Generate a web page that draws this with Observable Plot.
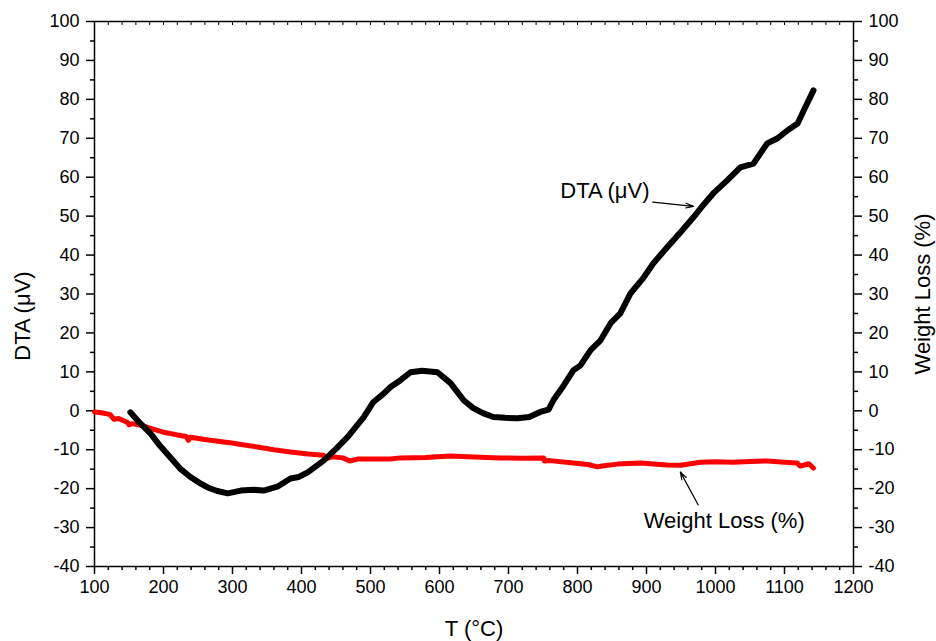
<!DOCTYPE html>
<html>
<head>
<meta charset="utf-8">
<script src="https://cdn.jsdelivr.net/npm/d3@7"></script>
<script src="https://cdn.jsdelivr.net/npm/@observablehq/plot@0.6"></script>
<style>
  html, body { margin: 0; padding: 0; background: #fff; }
  #chart svg { display: block; }
</style>
</head>
<body>
<div id="chart"></div>
<script>
// DTA curve (T in °C, DTA in µV)
const dtaT = [152,165,181,195,210,225,239,252,264,278,293,312,330,345,365,384,396,409,432,450,467,490,504,519,529,543,558,575,597,616,635,649,663,678,695,713,730,746,758,765,780,794,804,819,833,848,862,877,895,910,930,950,968,983,997,1017,1036,1055,1075,1090,1104,1119,1128,1142];
const dtaV = [-0.4,-3,-5.8,-9,-12,-15,-17,-18.5,-19.7,-20.6,-21.2,-20.5,-20.3,-20.5,-19.5,-17.4,-17,-15.8,-12.8,-9.8,-6.7,-1.7,2.2,4.4,6.1,7.8,9.9,10.3,9.9,7.1,2.7,0.7,-0.6,-1.6,-1.8,-1.9,-1.6,-0.3,0.3,2.7,6.5,10.4,11.6,15.6,18,22.5,25,30.2,34,37.9,42,46,49.7,53,55.9,59.2,62.5,63.5,68.7,70,72,73.8,77.2,82.3];

// Weight loss curve (T in °C, %)
const wlT = [100,110,123,128,135,148,150,155,167,185,200,220,233,236,239,260,287,300,310,336,360,384,410,432,434,445,460,470,481,500,529,543,580,616,650,688,720,751,752,760,794,815,829,835,858,891,930,950,978,1000,1026,1050,1075,1100,1118,1123,1135,1142];
const wlV = [-0.3,-0.5,-1,-2.2,-2,-3,-3.6,-3.3,-3.7,-4.7,-5.5,-6.2,-6.6,-7.6,-6.8,-7.4,-8,-8.3,-8.6,-9.3,-10,-10.6,-11.1,-11.4,-12.4,-11.8,-12.1,-12.9,-12.4,-12.4,-12.4,-12.1,-12,-11.6,-11.9,-12.1,-12.2,-12.1,-12.9,-12.8,-13.4,-13.8,-14.4,-14.2,-13.7,-13.4,-13.9,-14,-13.2,-13.1,-13.2,-13,-12.9,-13.2,-13.4,-14.2,-13.6,-14.7];

// Axis ticks
const xMajor = [100,200,300,400,500,600,700,800,900,1000,1100,1200];
const xMinor = d3.range(100, 1201, 20).filter(v => v % 100 !== 0);
const xTop = d3.range(100, 1201, 20);
const yMajor = [-40,-30,-20,-10,0,10,20,30,40,50,60,70,80,90,100];
const yMinor = [-35,-25,-15,-5,5,15,25,35,45,55,65,75,85,95];

// Annotations
const noteText = ["DTA (\u03bcV)", "Weight Loss (%)"];
const noteT = [775, 896];
const noteV = [56.4, -28.3];
const arrowT1 = [909, 975];
const arrowV1 = [53.6, -24.2];
const arrowT2 = [968, 949];
const arrowV2 = [52.5, -15.7];

const dta = dtaT.map((t, i) => ({T: t, v: dtaV[i]}));
const wl = wlT.map((t, i) => ({T: t, v: wlV[i]}));
const notes = noteText.map((s, i) => ({s, T: noteT[i], v: noteV[i]}));
const arrows = arrowT1.map((t, i) => ({x1: t, y1: arrowV1[i], x2: arrowT2[i], y2: arrowV2[i]}));

const font = "'Liberation Sans', Arial, sans-serif";
const fmt = d => String(d);

const chart = Plot.plot({
  width: 936,
  height: 641,
  marginLeft: 94,
  marginRight: 83,
  marginTop: 21,
  marginBottom: 75,
  style: {fontFamily: font, color: "black", background: "white"},
  x: {domain: [100, 1200]},
  y: {domain: [-40, 100]},
  marks: [
    Plot.axisY({anchor: "left", ticks: yMajor, tickFormat: fmt, tickSize: 8, tickPadding: 7, fontSize: 18, strokeWidth: 1.5, label: null}),
    Plot.axisY({anchor: "left", ticks: yMinor, tickSize: 4, text: null, strokeWidth: 1.5, label: null}),
    Plot.axisY({anchor: "right", ticks: yMajor, tickFormat: fmt, tickSize: 8, tickPadding: 7, fontSize: 18, strokeWidth: 1.5, label: null}),
    Plot.axisY({anchor: "right", ticks: yMinor, tickSize: 4, text: null, strokeWidth: 1.5, label: null}),
    Plot.axisX({anchor: "bottom", ticks: xMajor, tickFormat: fmt, tickSize: 8, tickPadding: 6, fontSize: 18, strokeWidth: 1.5, label: null}),
    Plot.axisX({anchor: "bottom", ticks: xMinor, tickSize: 4, text: null, strokeWidth: 1.5, label: null}),
    Plot.axisX({anchor: "top", ticks: xTop, tickSize: -3, text: null, strokeWidth: 1, label: null}),
    Plot.frame({stroke: "black", strokeWidth: 1.5}),
    Plot.line(wl, {x: "T", y: "v", stroke: "#ff0000", strokeWidth: 5, strokeLinejoin: "round", strokeLinecap: "round"}),
    Plot.line(dta, {x: "T", y: "v", stroke: "black", strokeWidth: 6, strokeLinejoin: "round", strokeLinecap: "round"}),
    Plot.arrow(arrows, {x1: "x1", y1: "y1", x2: "x2", y2: "y2", stroke: "black", strokeWidth: 1.2, headLength: 10, headAngle: 35}),
    Plot.text(notes, {x: "T", y: "v", text: "s", textAnchor: "start", fontSize: 22, fill: "black"}),
    Plot.text(["T (\u00b0C)"], {frameAnchor: "bottom", dy: 62, lineAnchor: "middle", textAnchor: "middle", fontSize: 22, fill: "black"}),
    Plot.text(["DTA (\u03bcV)"], {frameAnchor: "left", dx: -72, dy: 22, rotate: -90, textAnchor: "middle", lineAnchor: "middle", fontSize: 22, fill: "black"}),
    Plot.text(["Weight Loss (%)"], {frameAnchor: "right", dx: 69, dy: 0, rotate: -90, textAnchor: "middle", lineAnchor: "middle", fontSize: 22, fill: "black"})
  ]
});

document.getElementById("chart").appendChild(chart);
</script>
</body>
</html>
